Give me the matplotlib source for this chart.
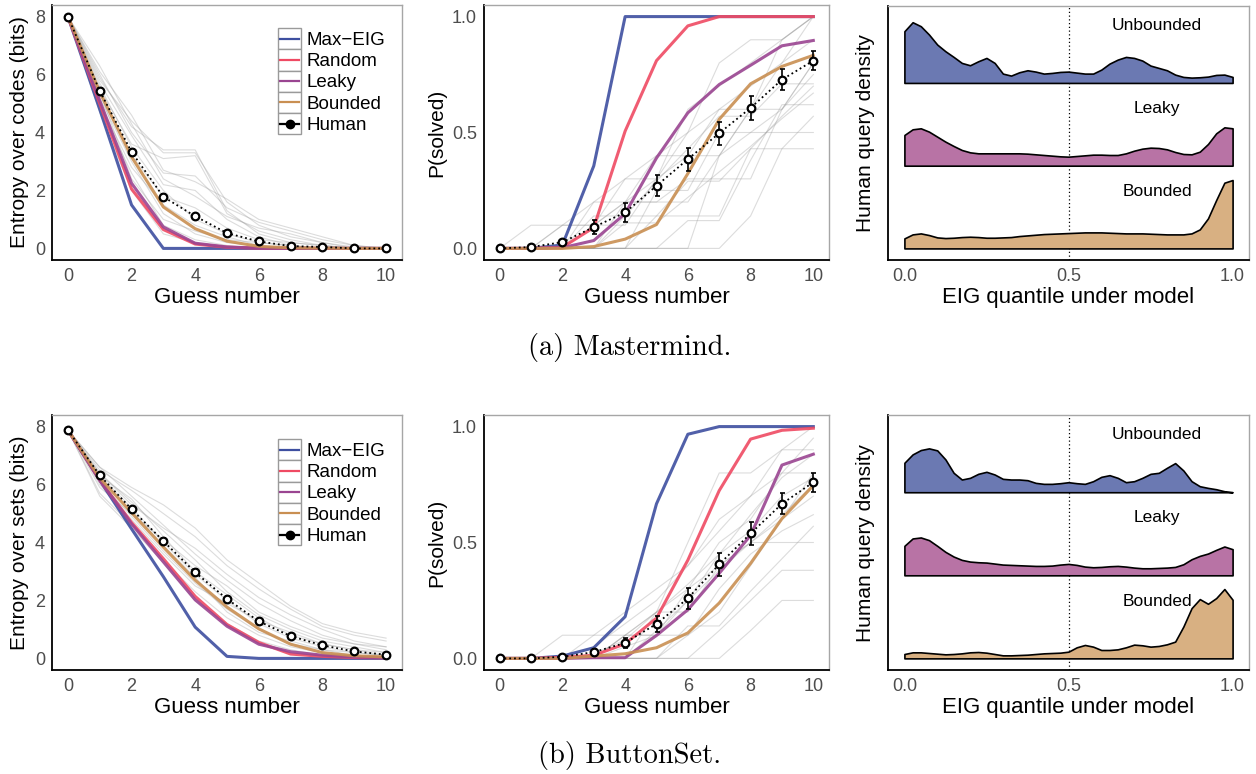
import numpy as np
import matplotlib
matplotlib.use("Agg")
import matplotlib.pyplot as plt
from matplotlib.legend_handler import HandlerBase
from matplotlib.lines import Line2D
from matplotlib.patches import Rectangle

plt.rcParams['font.family'] = ['Liberation Sans', 'DejaVu Sans']

# ---------------- data ----------------
guess = list(range(11))
model_names = ["Max\u2212EIG", "Random", "Leaky", "Bounded"]
model_colors = ["#3E4FA0", "#EF4A63", "#9A4591", "#C98F52"]

# Mastermind: entropy over codes
mm_ent_maxeig = [8.0, 4.8, 1.5, 0.0, 0.0, 0.0, 0.0, 0.0, 0.0, 0.0, 0.0]
mm_ent_random = [8.0, 5.0, 2.05, 0.65, 0.15, 0.04, 0.01, 0.0, 0.0, 0.0, 0.0]
mm_ent_leaky = [8.0, 5.1, 2.25, 0.74, 0.18, 0.05, 0.01, 0.0, 0.0, 0.0, 0.0]
mm_ent_bounded = [8.0, 5.4, 3.16, 1.43, 0.68, 0.25, 0.07, 0.02, 0.01, 0.0, 0.0]
mm_ent_human = [8.0, 5.44, 3.33, 1.78, 1.11, 0.53, 0.24, 0.08, 0.05, 0.0, 0.0]
mm_ent_human_se = [0.0, 0.08, 0.1, 0.1, 0.09, 0.06, 0.04, 0.03, 0.02, 0.01, 0.01]
mm_ent_players = [
    [8, 5.8, 4.4, 3.3, 3.3, 1.6, 0.8, 0.4, 0.2, 0.05, 0],
    [8, 6.0, 4.0, 2.6, 2.5, 1.4, 0.9, 0.6, 0.3, 0.1, 0],
    [8, 5.2, 3.0, 1.2, 0.5, 0.2, 0.1, 0, 0, 0, 0],
    [8, 5.5, 3.6, 3.1, 3.2, 1.2, 0.6, 0.3, 0.1, 0, 0],
    [8, 4.9, 2.6, 0.8, 0.3, 0.1, 0, 0, 0, 0, 0],
    [8, 5.7, 3.9, 2.2, 2.0, 1.0, 0.4, 0.1, 0, 0, 0],
    [8, 5.3, 3.2, 1.8, 1.4, 0.7, 0.3, 0.2, 0.1, 0, 0],
    [8, 4.7, 2.0, 0.5, 0.2, 0, 0, 0, 0, 0, 0],
    [8, 6.1, 4.6, 2.7, 2.3, 1.7, 1.0, 0.7, 0.4, 0.1, 0],
    [8, 5.6, 3.5, 2.0, 1.0, 0.5, 0.2, 0.1, 0, 0, 0],
    [8, 5.0, 2.8, 1.5, 0.8, 0.4, 0.1, 0, 0, 0, 0],
    [8, 5.9, 4.2, 3.4, 3.4, 1.3, 0.5, 0.2, 0.1, 0, 0],
    [8, 6.3, 4.3, 2.4, 1.8, 1.1, 0.7, 0.5, 0.2, 0, 0],
    [8, 5.4, 2.4, 1.0, 0.6, 0.3, 0.2, 0.1, 0, 0, 0],
]

# Mastermind: P(solved)
mm_p_maxeig = [0, 0, 0.015, 0.356, 1, 1, 1, 1, 1, 1, 1]
mm_p_random = [0, 0, 0.005, 0.09, 0.506, 0.81, 0.96, 1, 1, 1, 1]
mm_p_leaky = [0, 0, 0.003, 0.034, 0.15, 0.39, 0.585, 0.707, 0.79, 0.874, 0.897]
mm_p_bounded = [0, 0, 0, 0.008, 0.04, 0.103, 0.323, 0.557, 0.71, 0.785, 0.833]
mm_p_human = [0, 0.006, 0.027, 0.092, 0.155, 0.27, 0.385, 0.497, 0.606, 0.728, 0.81]
mm_p_human_se = [0, 0.003, 0.01, 0.03, 0.04, 0.045, 0.05, 0.05, 0.05, 0.045, 0.04]
mm_p_players = [
    [0, 0, 0.1, 0.1, 0.3, 0.3, 0.6, 0.7, 0.8, 0.9, 1.0],
    [0, 0, 0, 0.2, 0.2, 0.4, 0.4, 0.6, 0.6, 0.9, 1.0],
    [0, 0, 0, 0, 0.14, 0.14, 0.29, 0.29, 0.43, 0.43, 0.43],
    [0, 0, 0, 0, 0, 0.25, 0.25, 0.5, 0.5, 0.5, 0.5],
    [0, 0.1, 0.1, 0.1, 0.2, 0.3, 0.5, 0.6, 0.7, 0.8, 0.9],
    [0, 0, 0, 0, 0, 0, 0, 0, 0.14, 0.43, 0.57],
    [0, 0, 0, 0.14, 0.14, 0.29, 0.43, 0.57, 0.57, 0.71, 0.71],
    [0, 0, 0, 0, 0.11, 0.11, 0.22, 0.33, 0.44, 0.56, 0.67],
    [0, 0, 0.1, 0.2, 0.3, 0.4, 0.5, 0.8, 0.9, 0.9, 1.0],
    [0, 0, 0, 0, 0, 0, 0.12, 0.12, 0.38, 0.62, 0.62],
    [0, 0, 0, 0, 0.2, 0.2, 0.2, 0.4, 0.6, 0.6, 0.8],
    [0, 0, 0, 0.1, 0.1, 0.3, 0.4, 0.4, 0.5, 0.6, 0.75],
    [0, 0, 0, 0, 0, 0.14, 0.14, 0.14, 0.43, 0.57, 0.7],
    [0, 0, 0, 0, 0, 0, 0, 0.4, 0.6, 0.8, 1.0],
    [0, 0, 0, 0.1, 0.2, 0.2, 0.3, 0.3, 0.3, 0.6, 0.8],
]

# ButtonSet: entropy over sets
bs_ent_maxeig = [7.88, 6.15, 4.47, 2.82, 1.08, 0.07, 0.0, 0.0, 0.0, 0.0, 0.0]
bs_ent_random = [7.88, 6.15, 4.69, 3.44, 2.14, 1.17, 0.55, 0.15, 0.07, 0.03, 0.02]
bs_ent_leaky = [7.88, 6.15, 4.64, 3.33, 2.02, 1.11, 0.49, 0.23, 0.11, 0.05, 0.02]
bs_ent_bounded = [7.88, 6.23, 5.03, 3.84, 2.7, 1.77, 1.02, 0.49, 0.2, 0.09, 0.05]
bs_ent_human = [7.88, 6.32, 5.15, 4.05, 2.97, 2.05, 1.28, 0.77, 0.45, 0.24, 0.13]
bs_ent_human_se = [0.0, 0.06, 0.08, 0.09, 0.1, 0.1, 0.09, 0.07, 0.06, 0.05, 0.04]
bs_ent_players = [
    [7.88, 6.5, 5.8, 5.0, 4.2, 3.2, 2.4, 1.7, 1.1, 0.8, 0.6],
    [7.88, 6.3, 5.2, 4.0, 2.9, 2.0, 1.2, 0.7, 0.4, 0.2, 0.1],
    [7.88, 5.7, 4.6, 3.4, 2.3, 1.4, 0.8, 0.4, 0.2, 0.1, 0.05],
    [7.88, 6.6, 5.6, 4.6, 3.6, 2.7, 1.9, 1.3, 0.8, 0.5, 0.3],
    [7.88, 6.1, 4.9, 3.7, 2.6, 1.7, 1.0, 0.5, 0.3, 0.1, 0.05],
    [7.88, 6.4, 5.4, 4.4, 3.4, 2.3, 1.5, 1.0, 0.6, 0.4, 0.2],
    [7.88, 5.9, 5.0, 4.1, 3.2, 2.5, 1.6, 1.1, 0.7, 0.5, 0.4],
    [7.88, 6.2, 5.1, 3.9, 2.8, 1.6, 0.9, 0.6, 0.3, 0.2, 0.1],
    [7.88, 6.6, 5.9, 5.3, 4.5, 3.4, 2.6, 1.8, 1.2, 0.9, 0.7],
    [7.88, 6.0, 4.8, 3.6, 2.5, 1.9, 1.3, 0.9, 0.5, 0.3, 0.2],
    [7.88, 6.3, 5.5, 4.2, 3.0, 2.2, 1.4, 0.8, 0.5, 0.3, 0.1],
    [7.88, 5.6, 4.5, 3.3, 2.0, 1.2, 0.6, 0.3, 0.1, 0.05, 0],
    [7.88, 6.4, 5.3, 4.5, 3.8, 2.9, 2.1, 1.5, 1.0, 0.6, 0.4],
]

# ButtonSet: P(solved)
bs_p_maxeig = [0, 0, 0.01, 0.046, 0.18, 0.667, 0.967, 1, 1, 1, 1]
bs_p_random = [0, 0, 0.005, 0.013, 0.063, 0.174, 0.424, 0.724, 0.946, 0.984, 0.993]
bs_p_leaky = [0, 0, 0, 0.003, 0.003, 0.099, 0.21, 0.367, 0.531, 0.834, 0.881]
bs_p_bounded = [0, 0, 0, 0.01, 0.02, 0.046, 0.11, 0.239, 0.41, 0.603, 0.746]
bs_p_human = [0, 0, 0.007, 0.027, 0.067, 0.149, 0.259, 0.406, 0.539, 0.667, 0.76]
bs_p_human_se = [0, 0, 0.004, 0.015, 0.02, 0.035, 0.045, 0.05, 0.05, 0.045, 0.04]
bs_p_players = [
    [0, 0, 0, 0.1, 0.1, 0.2, 0.5, 0.8, 0.8, 0.9, 1.0],
    [0, 0, 0, 0, 0, 0.12, 0.25, 0.38, 0.5, 0.62, 0.75],
    [0, 0, 0.1, 0.1, 0.2, 0.3, 0.4, 0.6, 0.7, 0.9, 0.9],
    [0, 0, 0, 0, 0, 0, 0, 0, 0.12, 0.25, 0.25],
    [0, 0, 0, 0, 0.1, 0.2, 0.3, 0.5, 0.6, 0.8, 0.8],
    [0, 0, 0, 0, 0, 0, 0.14, 0.14, 0.29, 0.43, 0.57],
    [0, 0, 0, 0.05, 0.15, 0.25, 0.4, 0.55, 0.7, 0.8, 0.95],
    [0, 0, 0, 0, 0, 0, 0, 0.12, 0.25, 0.38, 0.38],
    [0, 0, 0, 0, 0.1, 0.1, 0.3, 0.4, 0.5, 0.6, 0.7],
    [0, 0, 0, 0, 0, 0.2, 0.2, 0.4, 0.5, 0.5, 0.5],
    [0, 0, 0, 0, 0.05, 0.1, 0.25, 0.45, 0.62, 0.78, 0.88],
    [0, 0, 0, 0, 0, 0, 0.1, 0.3, 0.45, 0.55, 0.62],
    [0, 0, 0, 0.02, 0.08, 0.2, 0.32, 0.45, 0.55, 0.7, 0.78],
    [0, 0, 0, 0, 0.1, 0.1, 0.1, 0.2, 0.4, 0.6, 0.8],
]

# EIG quantile densities (relative units), sampled every 0.025
eig_q = np.linspace(0, 1, 41)
ridge_names = ["Unbounded", "Leaky", "Bounded"]
ridge_colors = ["#6B79B2", "#B873A5", "#D8B082"]
mm_dens_unbounded = [155, 182, 170, 145, 115, 95, 78, 60, 53, 65, 75, 60, 28, 22, 32, 38,
                     34, 28, 30, 33, 34, 31, 28, 28, 40, 58, 70, 78, 75, 67, 52, 45, 38,
                     25, 18, 16, 17, 19, 24, 25, 18]
mm_dens_leaky = [92, 109, 112, 102, 87, 72, 59, 47, 40, 37, 37, 37, 37, 37, 37, 36, 34, 32,
                 30, 28, 27, 29, 31, 33, 33, 32, 32, 37, 45, 51, 54, 53, 49, 41, 35, 34, 42,
                 65, 97, 115, 112]
mm_dens_bounded = [30, 42, 45, 40, 33, 31, 32, 34, 35, 34, 32, 32, 33, 34, 37, 39, 41, 43,
                   44, 45, 46, 47, 48, 48, 48, 47, 46, 45, 45, 45, 44, 43, 42, 42, 42, 45,
                   57, 90, 145, 197, 205]
bs_dens_unbounded = [88, 113, 126, 131, 125, 98, 58, 38, 43, 55, 61, 53, 40, 38, 38, 36, 28,
                     25, 25, 27, 30, 27, 25, 33, 46, 51, 43, 30, 33, 43, 55, 58, 73, 87, 65,
                     33, 18, 13, 9, 3, 0]
bs_dens_leaky = [88, 110, 113, 105, 88, 70, 56, 46, 41, 39, 38, 35, 32, 31, 30, 29, 28, 28,
                 29, 32, 34, 31, 26, 24, 25, 27, 28, 26, 23, 21, 21, 22, 23, 25, 33, 48, 58,
                 65, 76, 86, 78]
bs_dens_bounded = [13, 18, 18, 16, 14, 12, 13, 15, 18, 19, 17, 13, 9, 9, 10, 11, 13, 15, 16,
                   17, 20, 33, 40, 35, 25, 25, 27, 33, 41, 39, 35, 37, 42, 50, 95, 150, 177,
                   163, 180, 207, 175]
dens_scale = 1 / 248.0


# ---------------- helpers ----------------
class KeyBoxHandler(HandlerBase):
    # ggplot-like legend key: grey-bordered square with a line through it
    def create_artists(self, legend, orig, xd, yd, w, h, fontsize, trans):
        x0, y0 = -xd, -yd
        box = Rectangle((x0, y0), w, h, facecolor="white", edgecolor="#9A9A9A",
                        lw=1.0, transform=trans)
        ln = Line2D([x0 + 0.1 * w, x0 + 0.9 * w], [y0 + h / 2] * 2,
                    color=orig.get_color(), lw=1.6, transform=trans)
        arts = [box, ln]
        if orig.get_marker() not in (None, "None", ""):
            mk = Line2D([x0 + w / 2], [y0 + h / 2], marker="o", color="black",
                        markersize=6, linestyle="none", transform=trans)
            arts.append(mk)
        return arts


def style_axes(ax):
    for s in ["left", "bottom"]:
        ax.spines[s].set_color("black")
        ax.spines[s].set_linewidth(1.3)
    for s in ["top", "right"]:
        ax.spines[s].set_color("#A6A6A6")
        ax.spines[s].set_linewidth(1.0)
    ax.tick_params(length=0, labelsize=13, labelcolor="#4D4D4D")
    ax.tick_params(axis="x", pad=6)
    ax.tick_params(axis="y", pad=5)


def curve_panel(ax, players, model_series, human, human_se, ylabel, legend_top):
    for row in players:
        ax.plot(guess, row, color="#9C9C9C", lw=0.8, alpha=0.35, zorder=1)
    handles = []
    for name, vals, col in zip(model_names, model_series, model_colors):
        h, = ax.plot(guess, vals, color=col, lw=2.2, alpha=0.9, label=name, zorder=2)
        handles.append(h)
    ax.errorbar(guess, human, yerr=human_se, fmt="none", ecolor="black",
                elinewidth=1.2, capsize=1.8, capthick=1.2, zorder=3)
    ax.plot(guess, human, color="black", ls=":", lw=1.3, marker="o", ms=5.5,
            mfc="white", mec="black", mew=1.6, zorder=4)
    ax.set_xlim(-0.5, 10.5)
    ax.set_xticks([0, 2, 4, 6, 8, 10])
    ax.set_xlabel("Guess number", fontsize=16, labelpad=1)
    ax.set_ylabel(ylabel, fontsize=15, labelpad=4)
    style_axes(ax)
    if legend_top is not None:
        hum = Line2D([], [], color="black", marker="o")
        ax.legend(handles + [hum], model_names + ["Human"],
                  handler_map={Line2D: KeyBoxHandler()},
                  loc="upper left", bbox_to_anchor=legend_top, frameon=False,
                  fontsize=13.5, labelspacing=0.0, handlelength=1.23, handleheight=1.37,
                  handletextpad=0.3, borderpad=0, borderaxespad=0)


def ridge_panel(ax, dens_list):
    ax.axvline(0.5, color="black", ls=(0, (1, 2)), lw=0.9, zorder=0)
    for i, (name, dens, col) in enumerate(zip(ridge_names, dens_list, ridge_colors)):
        base = 2 - i
        top = base + np.array(dens) * dens_scale
        ax.fill_between(eig_q, base, top, facecolor=col, edgecolor="black", lw=1.2,
                        zorder=2 + i)
        ax.text(0.77, base + 0.69, name, ha="center", va="center", fontsize=12.5,
                color="black", zorder=10)
    ax.set_xlim(-0.05, 1.05)
    ax.set_ylim(-0.14, 2.93)
    ax.set_xticks([0.0, 0.5, 1.0])
    ax.set_xticklabels(["0.0", "0.5", "1.0"])
    ax.set_yticks([])
    ax.set_xlabel("EIG quantile under model", fontsize=16, labelpad=1)
    ax.set_ylabel("Human query density", fontsize=15, labelpad=9)
    style_axes(ax)


# ---------------- figure ----------------
fig = plt.figure(figsize=(12.56, 7.74), dpi=100)
W, H = 1256.0, 774.0


def add_ax(x0, y0, x1, y1):
    return fig.add_axes([x0 / W, 1 - y1 / H, (x1 - x0) / W, (y1 - y0) / H])


a1 = add_ax(52, 5, 402, 260)
a2 = add_ax(484, 5, 829, 260)
a3 = add_ax(888, 6, 1249, 260)
b1 = add_ax(52, 415, 402, 670)
b2 = add_ax(484, 415, 829, 670)
b3 = add_ax(888, 415, 1249, 670)

curve_panel(a1, mm_ent_players,
            [mm_ent_maxeig, mm_ent_random, mm_ent_leaky, mm_ent_bounded],
            mm_ent_human, mm_ent_human_se, "Entropy over codes (bits)", (0.646, 0.91))
a1.set_ylim(-0.4, 8.4)
a1.set_yticks([0, 2, 4, 6, 8])

curve_panel(a2, mm_p_players,
            [mm_p_maxeig, mm_p_random, mm_p_leaky, mm_p_bounded],
            mm_p_human, mm_p_human_se, "P(solved)", None)
a2.set_ylim(-0.05, 1.05)
a2.set_yticks([0, 0.5, 1.0])
a2.set_yticklabels(["0.0", "0.5", "1.0"])

ridge_panel(a3, [mm_dens_unbounded, mm_dens_leaky, mm_dens_bounded])

curve_panel(b1, bs_ent_players,
            [bs_ent_maxeig, bs_ent_random, bs_ent_leaky, bs_ent_bounded],
            bs_ent_human, bs_ent_human_se, "Entropy over sets (bits)", (0.646, 0.906))
b1.set_ylim(-0.4, 8.4)
b1.set_yticks([0, 2, 4, 6, 8])

curve_panel(b2, bs_p_players,
            [bs_p_maxeig, bs_p_random, bs_p_leaky, bs_p_bounded],
            bs_p_human, bs_p_human_se, "P(solved)", None)
b2.set_ylim(-0.05, 1.05)
b2.set_yticks([0, 0.5, 1.0])
b2.set_yticklabels(["0.0", "0.5", "1.0"])

ridge_panel(b3, [bs_dens_unbounded, bs_dens_leaky, bs_dens_bounded])

fig.text(630 / W, 1 - 348 / H, "(a) Mastermind.", family="cmr10", fontsize=20.5,
         ha="center", va="center")
fig.text(630 / W, 1 - 756 / H, "(b) ButtonSet.", family="cmr10", fontsize=20.5,
         ha="center", va="center")

fig.savefig("out.png", dpi=100, facecolor="white")
